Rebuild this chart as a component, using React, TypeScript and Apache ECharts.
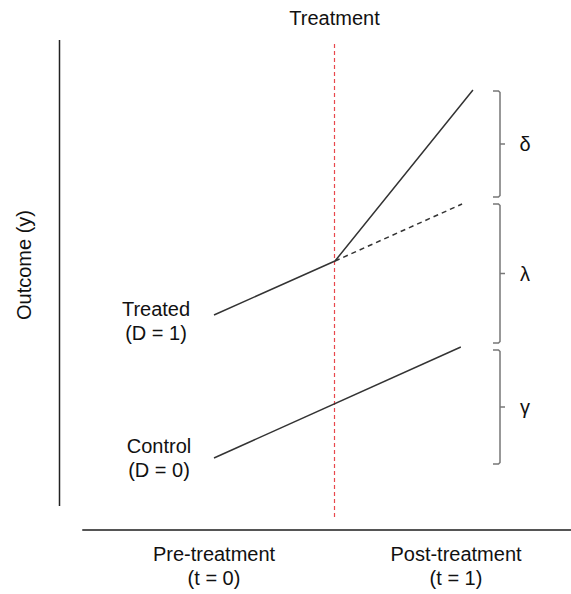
import React, { useEffect, useRef } from "react";
import * as echarts from "echarts";

// ---- data (time in periods, outcome in arbitrary units) ----
const periods = [0, 1];
const periodLabels = ["Pre-treatment\n(t = 0)", "Post-treatment\n(t = 1)"];
const treatmentTime = 0.5;
const treatmentLabel = "Treatment";

const treatedTimes = [0, 0.5, 1.07];
const treatedValues = [21.5, 26.9, 44.0];
const counterfactualTimes = [0.5, 1.025];
const counterfactualValues = [26.9, 32.6];
const controlTimes = [0, 1.02];
const controlValues = [7.2, 18.3];

const groupLabels = ["Treated\n(D = 1)", "Control\n(D = 0)"];
const effectSymbols = ["δ", "λ", "γ"];
const yAxisName = "Outcome (y)";

const FONT = "Liberation Sans, Arial, Helvetica, sans-serif";
const TEXT_COLOR = "#111";
const RED = "#e8474c";

export default function App() {
  const ref = useRef<HTMLDivElement>(null);

  useEffect(() => {
    if (!ref.current) return;
    const chart = echarts.init(ref.current, undefined, { renderer: "svg" });

    const zip = (xs: number[], ys: number[]) => xs.map((x, i) => [x, ys[i]]);

    const bracketRanges = [
      [treatedValues[2], counterfactualValues[1]],
      [counterfactualValues[1], controlValues[1]],
      [controlValues[1], controlValues[0]],
    ];
    const bracketInsets = [
      [1, -7],
      [0, -4],
      [3, 6],
    ];
    const groupPoints = [
      [treatedTimes[0], treatedValues[0]],
      [controlTimes[0], controlValues[0]],
    ];
    const groupOffsets = [
      [-58, 6],
      [-55, 0],
    ];

    const lineStyle = { color: "#333", width: 1.5 };

    chart.setOption({
      animation: false,
      grid: { left: 83, right: 0, top: 0, bottom: 64 },
      xAxis: {
        type: "value",
        min: -131 / 242,
        max: -131 / 242 + 488 / 242,
        axisLine: { show: true, onZero: false, lineStyle: { color: "#555", width: 2 } },
        axisTick: { show: false },
        splitLine: { show: false },
        axisLabel: {
          show: true,
          customValues: periods,
          formatter: (v: number) => periodLabels[periods.indexOf(v)] ?? "",
          fontSize: 20,
          lineHeight: 24,
          margin: 12,
          color: TEXT_COLOR,
          fontFamily: FONT,
          align: "center",
        },
      },
      yAxis: { type: "value", min: 0, max: 53, show: false },
      graphic: [
        {
          type: "line",
          shape: { x1: 59.5, y1: 40, x2: 59.5, y2: 506 },
          style: { stroke: "#222", lineWidth: 1.5 },
        },
        {
          type: "text",
          x: 24,
          y: 265,
          rotation: Math.PI / 2,
          style: {
            text: yAxisName,
            fontSize: 20,
            fontFamily: FONT,
            fill: TEXT_COLOR,
            align: "center",
            verticalAlign: "middle",
          },
        },
      ],
      series: [
        {
          type: "line",
          data: zip(treatedTimes, treatedValues),
          symbol: "none",
          lineStyle,
          silent: true,
        },
        {
          type: "line",
          data: zip(counterfactualTimes, counterfactualValues),
          symbol: "none",
          lineStyle: { ...lineStyle, type: [5, 4] },
          silent: true,
        },
        {
          type: "line",
          data: zip(controlTimes, controlValues),
          symbol: "none",
          lineStyle,
          silent: true,
        },
        {
          type: "custom",
          coordinateSystem: "cartesian2d",
          clip: false,
          silent: true,
          z: 1,
          data: [[treatmentTime, 0]],
          renderItem: (_p: any, api: any) => {
            const [px] = api.coord([api.value(0), 0]);
            const x = Math.round(px) - 0.5;
            return {
              type: "group",
              children: [
                {
                  type: "line",
                  shape: { x1: x, y1: 44, x2: x, y2: 520 },
                  style: { stroke: RED, fill: null, lineWidth: 1.2, lineDash: [4, 3], opacity: 1 },
                },
                {
                  type: "text",
                  x: x,
                  y: 18,
                  style: {
                    text: treatmentLabel,
                    fontSize: 20,
                    fontFamily: FONT,
                    fill: TEXT_COLOR,
                    align: "center",
                    verticalAlign: "middle",
                  },
                },
              ],
            };
          },
        },
        {
          type: "custom",
          coordinateSystem: "cartesian2d",
          clip: false,
          silent: true,
          data: groupPoints.map((p, i) => [p[0], p[1], i]),
          renderItem: (_p: any, api: any) => {
            const i = api.value(2);
            const [px, py] = api.coord([api.value(0), api.value(1)]);
            return {
              type: "text",
              x: px + groupOffsets[i][0],
              y: py + groupOffsets[i][1],
              style: {
                text: groupLabels[i],
                fontSize: 20,
                lineHeight: 24,
                fontFamily: FONT,
                fill: TEXT_COLOR,
                align: "center",
                verticalAlign: "middle",
              },
            };
          },
        },
        {
          type: "custom",
          coordinateSystem: "cartesian2d",
          clip: false,
          silent: true,
          encode: { x: 0, y: [1, 2] },
          data: bracketRanges.map((r, i) => [periods[1], r[0], r[1], i]),
          renderItem: (_p: any, api: any) => {
            const i = api.value(3);
            const [px, yTop0] = api.coord([api.value(0), api.value(1)]);
            const [, yBot0] = api.coord([api.value(0), api.value(2)]);
            const x = Math.round(px + 44);
            const yt = yTop0 + bracketInsets[i][0];
            const yb = yBot0 + bracketInsets[i][1];
            const ym = (yt + yb) / 2;
            const stroke = { stroke: "#777", lineWidth: 1.5, fill: null };
            return {
              type: "group",
              children: [
                {
                  type: "polyline",
                  shape: {
                    points: [
                      [x - 7, yt],
                      [x - 1.5, yt],
                      [x, yt + 1.5],
                      [x, yb - 1.5],
                      [x - 1.5, yb],
                      [x - 7, yb],
                    ],
                  },
                  style: stroke,
                },
                {
                  type: "line",
                  shape: { x1: x, y1: ym, x2: x + 5, y2: ym },
                  style: stroke,
                },
                {
                  type: "text",
                  x: x + 25,
                  y: ym,
                  style: {
                    text: effectSymbols[i],
                    fontSize: 20,
                    fontFamily: FONT,
                    fill: TEXT_COLOR,
                    align: "center",
                    verticalAlign: "middle",
                  },
                },
              ],
            };
          },
        },
      ],
    });

    return () => chart.dispose();
  }, []);

  return (
    <div
      ref={ref}
      style={{ position: "fixed", left: 0, top: 0, width: 571, height: 594, background: "#fff" }}
    />
  );
}
